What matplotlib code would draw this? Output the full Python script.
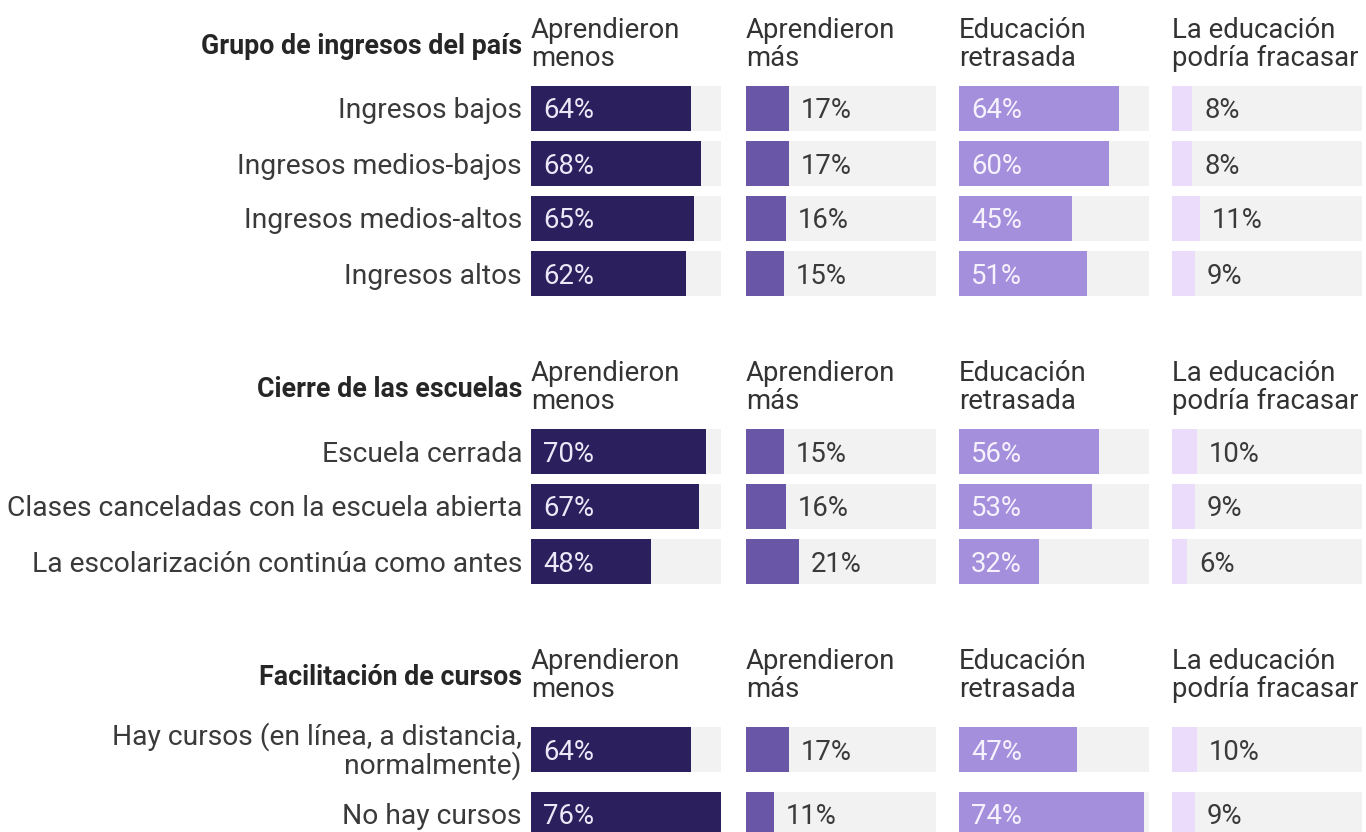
import numpy as np
import matplotlib
matplotlib.use("Agg")
import matplotlib.pyplot as plt

plt.rcParams['font.family'] = ['Roboto', 'DejaVu Sans']

# ---- data -------------------------------------------------------------
group_titles = ["Grupo de ingresos del país",
                "Cierre de las escuelas",
                "Facilitación de cursos"]
group_rows = [
    ["Ingresos bajos", "Ingresos medios-bajos",
     "Ingresos medios-altos", "Ingresos altos"],
    ["Escuela cerrada", "Clases canceladas con la escuela abierta",
     "La escolarización continúa como antes"],
    ["Hay cursos (en línea, a distancia,\nnormalmente)", "No hay cursos"],
]
column_titles = ["Aprendieron\nmenos", "Aprendieron\nmás",
                 "Educación\nretrasada", "La educación\npodría fracasar"]

learned_less = [64, 68, 65, 62, 70, 67, 48, 64, 76]
learned_more = [17, 17, 16, 15, 15, 16, 21, 17, 11]
delayed = [64, 60, 45, 51, 56, 53, 32, 47, 74]
may_fail = [8, 8, 11, 9, 10, 9, 6, 10, 9]
columns = [learned_less, learned_more, delayed, may_fail]

# ---- style ------------------------------------------------------------
bar_colors = ["#2c1f5d", "#6a56a6", "#a48fdc", "#eadcfa"]
label_inside = [True, False, True, False]
inside_colors = ["#ece8f8", None, "#f6f2fd", None]
track_color = "#f2f2f2"
text_color = "#3a3a3a"

W, H = 1366, 832
col_left = [531, 746, 959, 1172]
col_width = 190
label_right = 522
fs = 19.8
fs_rows = 20.3
fs_title = 19.3

bar_h = 45
row_h = 55
row_h_two = 75
head_h = 81
group_gap = 42

# ---- layout: vertical positions in pixel units -------------------------
group_tops, centers = [], []
y = 0
for rows in group_rows:
    group_tops.append(y)
    y += head_h
    for r in rows:
        h = row_h_two if "\n" in r else row_h
        centers.append(y + h / 2)
        y += h
    y += group_gap
centers = np.array(centers)
all_labels = [r for rows in group_rows for r in rows]
scale_max = max(max(c) for c in columns)

fig = plt.figure(figsize=(W / 100, H / 100), dpi=100)
fig.patch.set_facecolor("white")

# row labels and group titles
lab_ax = fig.add_axes([0, 0, label_right / W, 1])
lab_ax.set_xlim(0, label_right)
lab_ax.set_ylim(H, 0)
lab_ax.axis("off")
for gt, top in zip(group_titles, group_tops):
    lab_ax.text(label_right, top + 54, gt, ha="right", va="baseline",
                fontsize=fs_title, fontweight="bold", color="#262626")
for lab, yc in zip(all_labels, centers):
    lines = lab.split("\n")
    if len(lines) == 1:
        lab_ax.text(label_right, yc + 10, lab, ha="right", va="baseline",
                    fontsize=fs_rows, color=text_color)
    else:
        for k, ln in enumerate(lines):
            lab_ax.text(label_right, yc + 10 + (k - 0.5) * 29, ln,
                        ha="right", va="baseline", fontsize=fs_rows,
                        color=text_color)

# one axes per measure column
for i, vals in enumerate(columns):
    ax = fig.add_axes([col_left[i] / W, 0, col_width / W, 1])
    ax.set_xlim(0, scale_max)
    ax.set_ylim(H, 0)
    ax.axis("off")
    ax.barh(centers, [scale_max] * len(vals), height=bar_h,
            color=track_color, linewidth=0)
    ax.barh(centers, vals, height=bar_h, color=bar_colors[i], linewidth=0)
    for v, yc in zip(vals, centers):
        if label_inside[i]:
            ax.annotate(f"{v}%", xy=(0, yc), xytext=(12, -10),
                        textcoords="offset pixels", ha="left", va="baseline",
                        fontsize=fs, color=inside_colors[i])
        else:
            ax.annotate(f"{v}%", xy=(v, yc), xytext=(12, -10),
                        textcoords="offset pixels", ha="left", va="baseline",
                        fontsize=fs, color=text_color)
    for top in group_tops:
        first, second = column_titles[i].split("\n")
        ax.text(0, top + 38, first, ha="left", va="baseline",
                fontsize=fs, color="#333333", clip_on=False)
        ax.text(0, top + 66, second, ha="left", va="baseline",
                fontsize=fs, color="#333333", clip_on=False)

fig.savefig("out.png", dpi=100, facecolor="white")
